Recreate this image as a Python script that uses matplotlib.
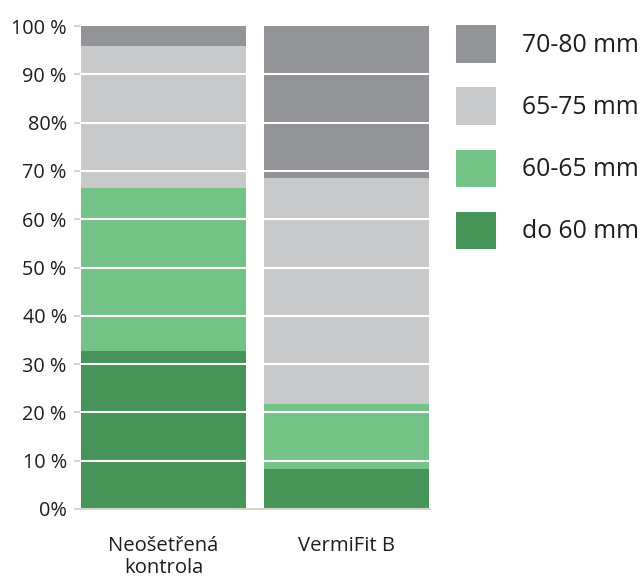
import matplotlib
matplotlib.use("Agg")
import matplotlib.pyplot as plt
import numpy as np

plt.rcParams['font.family'] = ['Open Sans', 'DejaVu Sans']

categories = ["Neošetřená\nkontrola", "VermiFit B"]
series_names = ["do 60 mm", "60-65 mm", "65-75 mm", "70-80 mm"]
do60 = [32.7, 8.3]
s60_65 = [33.8, 13.4]
s65_75 = [29.4, 46.9]
s70_80 = [4.1, 31.4]
series_values = [do60, s60_65, s65_75, s70_80]
colors = ["#479458", "#74c386", "#c8c9cb", "#939498"]
ytick_values = [0, 10, 20, 30, 40, 50, 60, 70, 80, 90, 100]
ytick_labels = ["0%", "10 %", "20 %", "30 %", "40 %", "50 %", "60 %", "70 %", "80%", "90 %", "100 %"]

fig = plt.figure(figsize=(6.43, 5.77), dpi=100)
ax = fig.add_axes([80/643, 1-509/577, 350/643, 483/577])

x = np.arange(len(categories))
bottom = np.zeros(len(categories))
handles = []
for name, vals, c in zip(series_names, series_values, colors):
    b = ax.bar(x, vals, width=0.9016, bottom=bottom, color=c, label=name, zorder=2, linewidth=0)
    handles.append(b)
    bottom += np.array(vals)

ax.set_xlim(-0.456, 1.456)
ax.set_ylim(0, 100)
ax.set_yticks(ytick_values)
ax.set_yticklabels(ytick_labels, fontsize=14.3, color="#1e1e1e")
ax.set_xticks(x)
ax.set_xticklabels(categories, fontsize=14.6, color="#1e1e1e", linespacing=1.1)
ax.tick_params(axis='y', length=4.5, width=1.5, color="#d8d4c8", pad=5)
ax.tick_params(axis='x', length=0, pad=19.5)
for y in ytick_values[1:-1]:
    ax.axhline(y, color="white", linewidth=1.5, zorder=3)
for s in ["top", "right", "left"]:
    ax.spines[s].set_visible(False)
ax.spines["bottom"].set_color("#d8d4c8")
ax.spines["bottom"].set_linewidth(1.5)

leg = ax.legend(handles[::-1], series_names[::-1], loc="upper left",
                bbox_to_anchor=(456/643, 1-25/577), bbox_transform=fig.transFigure,
                frameon=False, fontsize=17.8, handlelength=1.63, handleheight=1.96,
                handletextpad=1.05, labelspacing=1.0, borderaxespad=0, borderpad=0)
for t in leg.get_texts():
    t.set_color("#1e1e1e")

fig.savefig("out.png", dpi=100)
